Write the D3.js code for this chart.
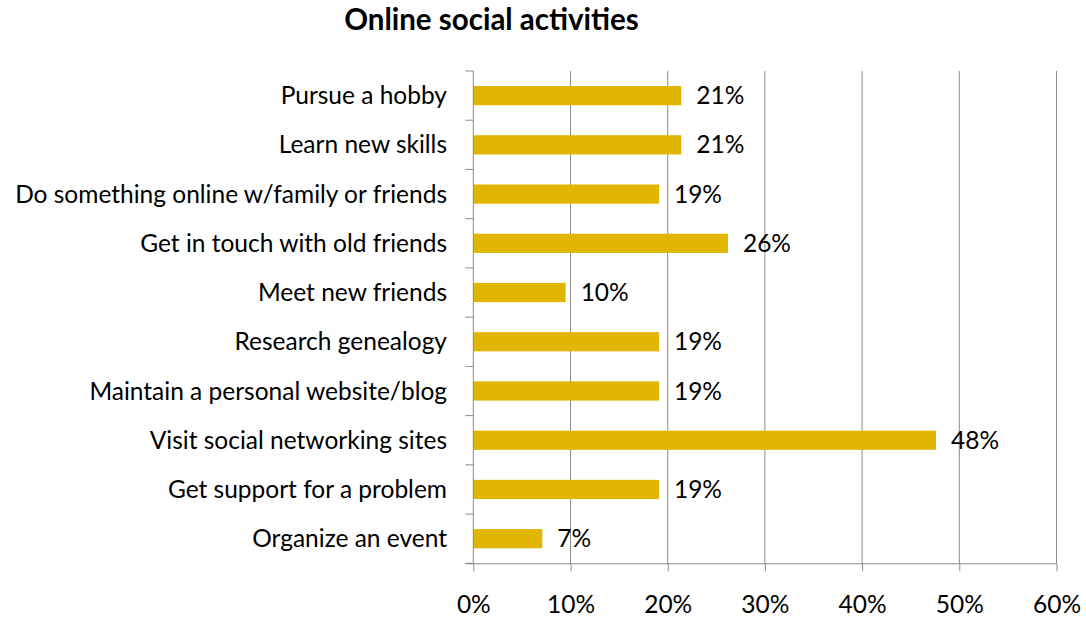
<!DOCTYPE html>
<html>
<head>
<meta charset="utf-8">
<script src="https://cdn.jsdelivr.net/npm/d3@7"></script>
<style>
  html, body { margin: 0; padding: 0; background: #fff; }
  svg text { font-family: Lato, "Open Sans", sans-serif; fill: #000; }
</style>
</head>
<body>
<svg id="chart" width="1086" height="621"></svg>
<script>
// Share of respondents doing each activity online (percent)
const categories = [
  "Pursue a hobby",
  "Learn new skills",
  "Do something online w/family or friends",
  "Get in touch with old friends",
  "Meet new friends",
  "Research genealogy",
  "Maintain a personal website/blog",
  "Visit social networking sites",
  "Get support for a problem",
  "Organize an event"
];
const values = [21.4, 21.4, 19.1, 26.2, 9.5, 19.1, 19.1, 47.6, 19.1, 7.1];
const xTicks = [0, 10, 20, 30, 40, 50, 60];
const title = "Online social activities";

const svg = d3.select("#chart");
const plotLeft = 473.3, plotRight = 1056.5, plotTop = 71, plotBottom = 563.3;
const fontSize = 24.5;

const x = d3.scaleLinear().domain([0, 60]).range([plotLeft, plotRight]);
const y = d3.scaleBand().domain(categories).range([plotTop, plotBottom]).paddingInner(0.61).paddingOuter(0.305);
const yb = d3.scaleBand().domain(categories).range([plotTop, plotBottom]);

// vertical gridlines
svg.append("g")
  .selectAll("line")
  .data(xTicks.slice(1))
  .join("line")
  .attr("x1", d => x(d)).attr("x2", d => x(d))
  .attr("y1", plotTop).attr("y2", plotBottom)
  .attr("stroke", "#8c8c8c").attr("stroke-width", 1);

// bars
svg.append("g")
  .selectAll("rect")
  .data(values)
  .join("rect")
  .attr("x", x(0))
  .attr("y", (d, i) => y(categories[i]))
  .attr("width", d => x(d) - x(0))
  .attr("height", y.bandwidth())
  .attr("fill", "#e0b600");

// value labels
svg.append("g")
  .selectAll("text")
  .data(values)
  .join("text")
  .attr("x", d => x(d) + 15)
  .attr("y", (d, i) => y(categories[i]) + y.bandwidth() / 2)
  .attr("dy", "0.35em")
  .attr("font-size", fontSize)
  .text(d => Math.round(d) + "%");

// x axis
const xAxis = d3.axisBottom(x).tickValues(xTicks).tickFormat(d => d + "%").tickSize(8).tickPadding(24);
const gx = svg.append("g").attr("transform", `translate(0,${plotBottom})`).call(xAxis);
gx.select(".domain").attr("stroke", "#8c8c8c").attr("d", `M${plotLeft - 8},0.5H${plotRight}`);
gx.selectAll(".tick line").attr("stroke", "#8c8c8c");
gx.selectAll(".tick text").attr("font-size", fontSize).attr("font-family", "Lato, sans-serif").attr("fill", "#000");

// y axis: ticks at band boundaries, labels at band centres
const ga = svg.append("g");
ga.append("line")
  .attr("x1", plotLeft).attr("x2", plotLeft).attr("y1", plotTop).attr("y2", plotBottom)
  .attr("stroke", "#8c8c8c");
ga.selectAll("line.tk")
  .data(categories.map(c => yb(c)).concat([plotBottom]))
  .join("line").attr("class", "tk")
  .attr("x1", plotLeft - 8).attr("x2", plotLeft)
  .attr("y1", d => d).attr("y2", d => d)
  .attr("stroke", "#8c8c8c");
ga.selectAll("text")
  .data(categories)
  .join("text")
  .attr("x", 447)
  .attr("y", d => yb(d) + yb.bandwidth() / 2)
  .attr("dy", "0.35em")
  .attr("text-anchor", "end")
  .attr("font-size", fontSize)
  .text(d => d);

// title
svg.append("text")
  .attr("x", 491.5).attr("y", 30)
  .attr("text-anchor", "middle")
  .attr("font-size", 29.5)
  .attr("font-weight", "bold")
  .text(title);
</script>
</body>
</html>
